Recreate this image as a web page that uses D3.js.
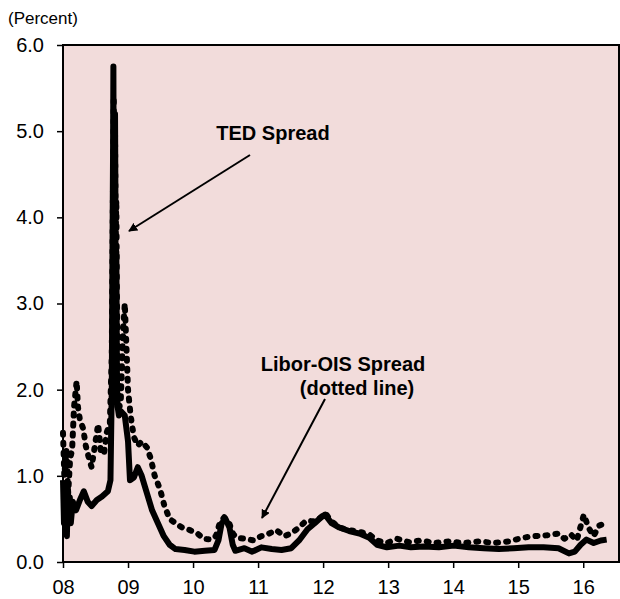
<!DOCTYPE html>
<html>
<head>
<meta charset="utf-8">
<script src="https://cdn.jsdelivr.net/npm/d3@7"></script>
<style>
  body { margin: 0; background: #fff; }
  text { font-family: "Liberation Sans", Arial, sans-serif; fill: #000; }
</style>
</head>
<body>
<div id="chart"></div>
<script>
// x = year (08 = 2008), y = percent
const yearTicks = [8, 9, 10, 11, 12, 13, 14, 15, 16]
const valueTicks = [0, 1, 2, 3, 4, 5, 6]

// solid line
const tedYears = [8.00, 8.015, 8.03, 8.045, 8.06, 8.075, 8.09, 8.105, 8.12, 8.15, 8.20, 8.26, 8.32, 8.38, 8.44, 8.52, 8.60, 8.69, 8.73, 8.75, 8.76, 8.77, 8.775, 8.78, 8.79, 8.80, 8.805, 8.81, 8.82, 8.83, 8.84, 8.86, 8.89, 8.95, 9.00, 9.03, 9.09, 9.15, 9.21, 9.29, 9.37, 9.46, 9.55, 9.64, 9.73, 9.87, 10.02, 10.18, 10.33, 10.39, 10.44, 10.50, 10.56, 10.61, 10.65, 10.79, 10.91, 11.05, 11.21, 11.36, 11.51, 11.63, 11.76, 11.87, 11.97, 12.03, 12.13, 12.25, 12.40, 12.56, 12.71, 12.83, 12.98, 13.17, 13.35, 13.55, 13.78, 14.01, 14.24, 14.47, 14.70, 14.93, 15.16, 15.39, 15.62, 15.78, 15.87, 15.96, 16.05, 16.16, 16.27, 16.36]
const tedValues = [0.95, 0.45, 0.80, 0.35, 0.30, 0.85, 0.50, 0.75, 0.45, 0.70, 0.60, 0.72, 0.82, 0.70, 0.65, 0.72, 0.76, 0.82, 0.95, 2.00, 3.50, 4.80, 5.75, 4.00, 3.20, 5.20, 4.40, 2.60, 3.60, 2.10, 1.80, 1.70, 1.75, 1.70, 1.40, 0.95, 0.98, 1.10, 1.00, 0.80, 0.60, 0.45, 0.30, 0.20, 0.15, 0.14, 0.12, 0.13, 0.14, 0.25, 0.45, 0.50, 0.40, 0.20, 0.13, 0.16, 0.12, 0.17, 0.15, 0.14, 0.16, 0.25, 0.38, 0.45, 0.52, 0.55, 0.45, 0.40, 0.36, 0.33, 0.28, 0.20, 0.17, 0.19, 0.17, 0.18, 0.17, 0.19, 0.17, 0.16, 0.15, 0.16, 0.17, 0.17, 0.16, 0.10, 0.12, 0.20, 0.26, 0.22, 0.25, 0.26]

// dotted line
const liborYears = [8.00, 8.02, 8.05, 8.08, 8.11, 8.14, 8.17, 8.21, 8.23, 8.26, 8.31, 8.35, 8.40, 8.44, 8.49, 8.54, 8.58, 8.63, 8.67, 8.72, 8.75, 8.765, 8.78, 8.79, 8.80, 8.81, 8.82, 8.83, 8.85, 8.87, 8.89, 8.92, 8.95, 8.97, 9.00, 9.04, 9.09, 9.15, 9.21, 9.29, 9.35, 9.41, 9.49, 9.56, 9.64, 9.73, 9.83, 9.95, 10.07, 10.16, 10.27, 10.35, 10.41, 10.48, 10.56, 10.62, 10.68, 10.81, 10.93, 11.05, 11.17, 11.28, 11.40, 11.51, 11.63, 11.74, 11.87, 11.97, 12.03, 12.13, 12.25, 12.40, 12.56, 12.71, 12.83, 12.98, 13.14, 13.32, 13.51, 13.71, 13.94, 14.17, 14.40, 14.63, 14.86, 15.06, 15.24, 15.44, 15.62, 15.71, 15.81, 15.90, 16.01, 16.08, 16.16, 16.24, 16.33]
const liborValues = [1.50, 1.00, 1.30, 0.80, 1.20, 1.30, 1.80, 2.10, 1.80, 1.65, 1.55, 1.35, 1.20, 1.10, 1.35, 1.60, 1.30, 1.25, 1.50, 1.60, 2.40, 4.00, 5.40, 4.50, 5.00, 3.80, 4.20, 3.00, 2.20, 1.80, 1.90, 2.60, 3.00, 2.60, 2.00, 1.70, 1.45, 1.35, 1.40, 1.33, 1.20, 1.00, 0.85, 0.65, 0.50, 0.45, 0.40, 0.37, 0.33, 0.27, 0.26, 0.30, 0.45, 0.52, 0.44, 0.32, 0.28, 0.27, 0.25, 0.30, 0.33, 0.37, 0.30, 0.33, 0.40, 0.48, 0.47, 0.52, 0.57, 0.47, 0.40, 0.37, 0.35, 0.32, 0.25, 0.22, 0.27, 0.23, 0.25, 0.22, 0.24, 0.22, 0.24, 0.22, 0.24, 0.28, 0.30, 0.31, 0.33, 0.27, 0.32, 0.25, 0.55, 0.40, 0.30, 0.42, 0.45]

const width = 620
const height = 599
const plot = {left: 63, right: 619, top: 45, bottom: 562}

const x = d3.scaleLinear().domain([8, 16.55]).range([plot.left, plot.right])
const y = d3.scaleLinear().domain([0, 6]).range([plot.bottom, plot.top])

const svg = d3.select("#chart").append("svg")
    .attr("width", width)
    .attr("height", height)

svg.append("defs").append("marker")
    .attr("id", "head")
    .attr("viewBox", "0 0 10 10")
    .attr("refX", 9).attr("refY", 5)
    .attr("markerWidth", 9).attr("markerHeight", 9)
    .attr("markerUnits", "userSpaceOnUse")
    .attr("orient", "auto")
    .append("path")
    .attr("d", "M0,0L10,5L0,10z")
    .attr("fill", "#000")

// plot background
svg.append("rect")
    .attr("x", plot.left).attr("y", plot.top)
    .attr("width", plot.right - plot.left)
    .attr("height", plot.bottom - plot.top)
    .attr("fill", "#f2dcdb")

const line = d3.line()
    .x(d => x(d[0]))
    .y(d => y(d[1]))

const tedData = tedYears.map((t, i) => [t, tedValues[i]])
const liborData = liborYears.map((t, i) => [t, liborValues[i]])

svg.append("path")
    .datum(liborData)
    .attr("d", line)
    .attr("fill", "none")
    .attr("stroke", "#000")
    .attr("stroke-width", 6)
    .attr("stroke-linecap", "round")
    .attr("stroke-linejoin", "round")
    .attr("stroke-dasharray", "2,8")

svg.append("path")
    .datum(tedData)
    .attr("d", line)
    .attr("fill", "none")
    .attr("stroke", "#000")
    .attr("stroke-width", 6)
    .attr("stroke-linejoin", "round")

// frame
svg.append("rect")
    .attr("x", plot.left).attr("y", plot.top)
    .attr("width", plot.right - plot.left)
    .attr("height", plot.bottom - plot.top)
    .attr("fill", "none")
    .attr("stroke", "#000")
    .attr("stroke-width", 2)

// axes
const xAxis = svg.append("g")
    .attr("transform", `translate(0,${plot.bottom})`)
    .call(d3.axisBottom(x).tickValues(yearTicks).tickSize(6).tickSizeOuter(0)
        .tickFormat(d => d3.format("02d")(d)))
xAxis.select(".domain").remove()
xAxis.selectAll(".tick line").attr("stroke", "#000").attr("stroke-width", 1.5)
xAxis.selectAll("text").attr("font-size", 20).attr("dy", "1.15em")

const yAxis = svg.append("g")
    .attr("transform", `translate(${plot.left},0)`)
    .call(d3.axisLeft(y).tickValues(valueTicks).tickSize(6).tickSizeOuter(0)
        .tickFormat(d3.format(".1f")))
yAxis.select(".domain").remove()
yAxis.selectAll(".tick line").attr("stroke", "#000").attr("stroke-width", 1.5)
yAxis.selectAll("text").attr("font-size", 20).attr("x", -19)

svg.append("text")
    .attr("x", 8).attr("y", 24)
    .attr("font-size", 17)
    .text("(Percent)")

// annotations
svg.append("text")
    .attr("x", 273).attr("y", 140)
    .attr("text-anchor", "middle")
    .attr("font-size", 20).attr("font-weight", "bold")
    .text("TED Spread")

svg.append("line")
    .attr("x1", 250).attr("y1", 155)
    .attr("x2", 129).attr("y2", 231)
    .attr("stroke", "#000").attr("stroke-width", 2)
    .attr("marker-end", "url(#head)")

svg.append("text")
    .attr("x", 343).attr("y", 371)
    .attr("text-anchor", "middle")
    .attr("font-size", 20).attr("font-weight", "bold")
    .text("Libor-OIS Spread")

svg.append("text")
    .attr("x", 357).attr("y", 395)
    .attr("text-anchor", "middle")
    .attr("font-size", 20).attr("font-weight", "bold")
    .text("(dotted line)")

svg.append("line")
    .attr("x1", 325).attr("y1", 399)
    .attr("x2", 262).attr("y2", 518)
    .attr("stroke", "#000").attr("stroke-width", 2)
    .attr("marker-end", "url(#head)")
</script>
</body>
</html>
